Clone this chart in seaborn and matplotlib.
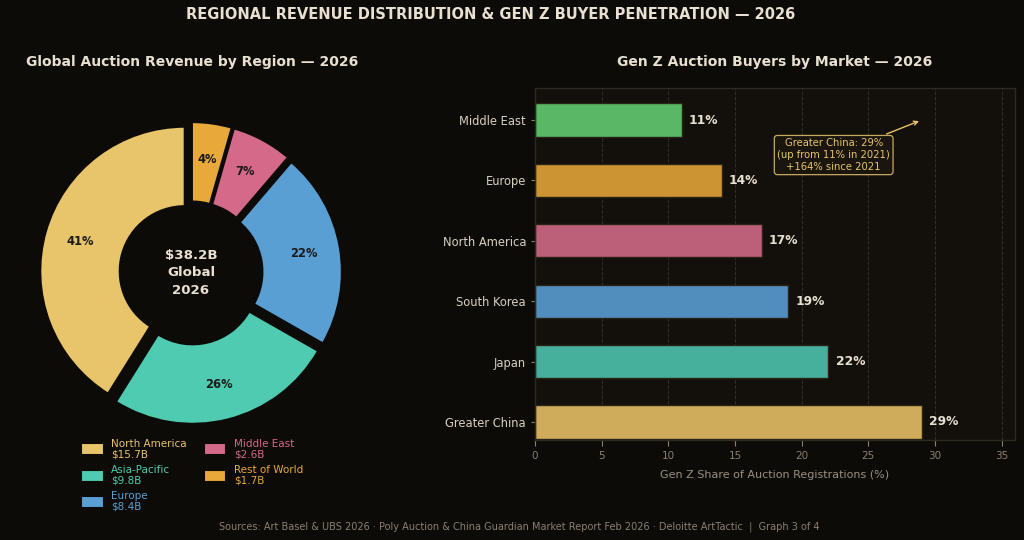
import matplotlib
matplotlib.use("Agg")
import matplotlib.pyplot as plt
import seaborn as sns
import pandas as pd

# --- data ---
regions = ["North America", "Asia-Pacific", "Europe", "Middle East", "Rest of World"]
revenue_b = [15.7, 9.8, 8.4, 2.6, 1.7]
region_colors = ["#e8c46a", "#4ecbb0", "#5a9fd4", "#d4698a", "#e8a83a"]

markets = ["Middle East", "Europe", "North America", "South Korea", "Japan", "Greater China"]
genz_share = [11, 14, 17, 19, 22, 29]
market_colors = ["#58b865", "#cc9433", "#bc5f78", "#518ebd", "#47b09c", "#ceac5c"]

BG = "#0d0b08"
PANEL = "#13100c"
TXT = "#e8e0d0"
MUTED = "#8a8070"

sns.set_theme(style="dark")
plt.rcParams["font.family"] = ["DejaVu Sans"]

fig = plt.figure(figsize=(10.24, 5.4), dpi=100, facecolor=BG)

# --- donut ---
cx, cy = 191 / 1024, 1 - 273 / 540
w, h = 0.357, 0.677
ax1 = fig.add_axes([cx - w / 2, cy - h / 2, w, h])
ax1.set_facecolor(BG)
total = sum(revenue_b)
wedges, _, autotexts = ax1.pie(
    revenue_b, colors=region_colors, startangle=90, counterclock=True,
    explode=[0.045] * len(revenue_b), autopct="%.0f%%", pctdistance=0.75,
    wedgeprops=dict(width=0.55, edgecolor=BG, linewidth=1.5),
    textprops=dict(color="#1a1a1a", fontsize=8.3, fontweight="bold"),
)
ax1.set_xlim(-1.265, 1.265)
ax1.set_ylim(-1.265, 1.265)
ax1.set_aspect("equal")
ax1.text(0, 0, f"${total:.1f}B\nGlobal\n2026", ha="center", va="center",
         color=TXT, fontsize=9.6, fontweight="bold", linespacing=1.4)

leg_labels = [f"{r}\n${v}B" for r, v in zip(regions, revenue_b)]
leg = fig.legend(wedges, leg_labels, loc="upper center", bbox_to_anchor=(0.1875, 0.205),
                 ncol=2, frameon=False, fontsize=7.5, handlelength=2.2, handleheight=1.4,
                 columnspacing=1.6, labelspacing=0.55, handletextpad=0.7)
for t, c in zip(leg.get_texts(), region_colors):
    t.set_color(c)
    t.set_linespacing(1.05)

fig.text(0.1875, 0.885, "Global Auction Revenue by Region — 2026", ha="center", va="center",
         color=TXT, fontsize=10, fontweight="bold")

# --- bars ---
ax2 = fig.add_axes([0.5225, 0.185, 0.4687, 0.652])
ax2.set_facecolor(PANEL)
df = pd.DataFrame({"market": markets, "share": genz_share})
sns.barplot(data=df, y="market", x="share", hue="market", palette=market_colors,
            order=markets, legend=False, width=0.55, saturation=1, ax=ax2,
            edgecolor="#2a2418", linewidth=1)
for i, v in enumerate(genz_share):
    ax2.text(v + 0.55, i, f"{v}%", va="center", ha="left", color=TXT,
             fontsize=8.8, fontweight="bold")
ax2.set_xlim(0, 36)
ax2.set_ylim(5.3, -0.53)
ax2.set_xticks(range(0, 36, 5))
ax2.grid(axis="x", color="#342f26", linestyle="--", linewidth=0.7)
ax2.grid(axis="y", visible=False)
ax2.set_axisbelow(True)
for s in ax2.spines.values():
    s.set_color("#2e2920")
    s.set_linewidth(1)
ax2.tick_params(axis="x", colors=MUTED, labelsize=7.5, length=4, width=0.8)
ax2.tick_params(axis="y", colors=MUTED, labelcolor="#d8d0c0", labelsize=8.3, length=3, width=0.8)
ax2.tick_params(bottom=True, left=True)
ax2.set_ylabel("")
ax2.set_xlabel("Gen Z Share of Auction Registrations (%)", color="#9a9080", fontsize=8, labelpad=7)

ax2.annotate("Greater China: 29%\n(up from 11% in 2021)\n+164% since 2021",
             xy=(29, 0), xytext=(22.4, 0.58), ha="center", va="center",
             color="#e8c46a", fontsize=7.2,
             bbox=dict(boxstyle="round,pad=0.3", facecolor="#1a160e", edgecolor="#c8a860", linewidth=0.9),
             arrowprops=dict(arrowstyle="->", color="#e8c46a", lw=1.0))

fig.text(0.7565, 0.885, "Gen Z Auction Buyers by Market — 2026", ha="center", va="center",
         color=TXT, fontsize=10, fontweight="bold")

fig.text(0.4795, 0.973, "REGIONAL REVENUE DISTRIBUTION & GEN Z BUYER PENETRATION — 2026",
         ha="center", va="center", color=TXT, fontsize=10.5, fontweight="bold")
fig.text(0.507, 0.024, "Sources: Art Basel & UBS 2026 · Poly Auction & China Guardian Market Report Feb 2026 · "
         "Deloitte ArtTactic  |  Graph 3 of 4", ha="center", va="center", color=MUTED, fontsize=7)

fig.savefig("out.png", dpi=100, facecolor=BG)
